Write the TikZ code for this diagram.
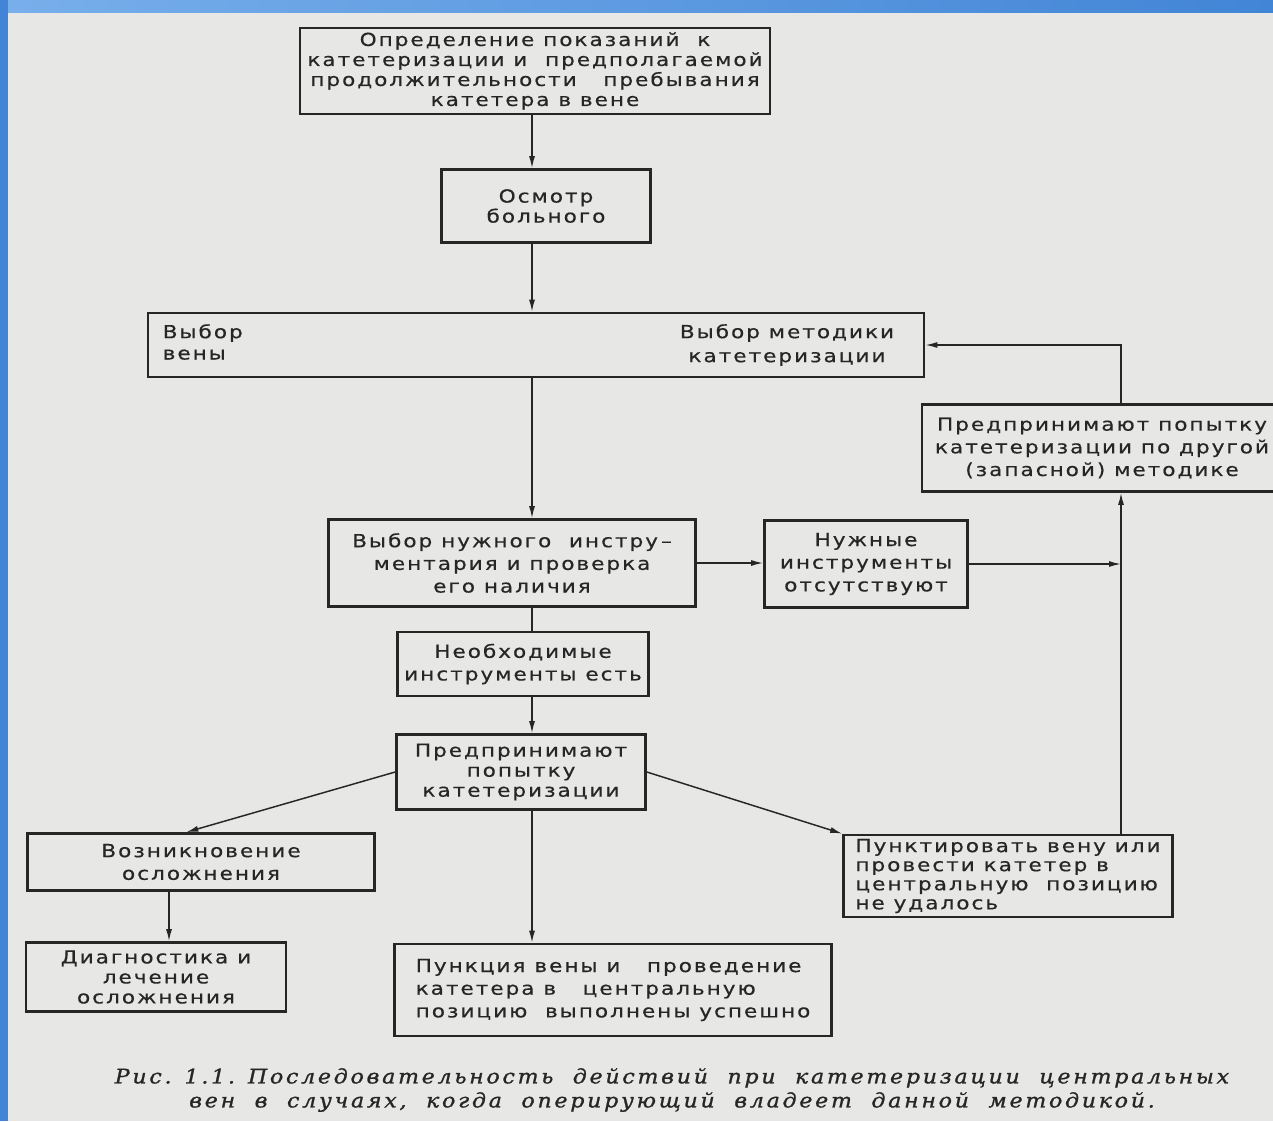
\documentclass[tikz,border=0pt]{standalone}
\usepackage{fontspec}
\usetikzlibrary{arrows.meta,calc,positioning}
\newfontfamily\boxfont{DejaVu Sans}[FakeStretch=1.2,LetterSpace=11,FakeBold=0.5]
\newfontfamily\capfont{DejaVu Serif}[FakeStretch=1.1,LetterSpace=14,FakeBold=1.2]
\definecolor{paper}{RGB}{231,231,229}
\definecolor{ink}{RGB}{38,38,38}
\definecolor{frameblue}{RGB}{66,133,214}
\definecolor{framelight}{RGB}{120,175,235}
\newdimen\pxu \pxu=0.75pt

\begin{document}
\begin{tikzpicture}[
	x=0.75pt, y=-0.75pt,
	box/.style = {draw=ink, line width=2pt, align=center, text=ink,
								inner sep=3pt, font=\boxfont\fontsize{13.5}{15}\selectfont},
 wide/.style = {font=\boxfont\fontsize{13.5}{17}\selectfont},
 link/.style = {draw=ink, line width=1.1pt},
	arr/.style = {link, -{Latex[length=9pt,width=4.5pt]}}]
%
\fill[paper] (0,0) rectangle (1273,1121);
\shade[left color=framelight, right color=frameblue] (0,0) rectangle (1273,12);
\fill[frameblue] (0,0) rectangle (8,1121);
\useasboundingbox (0,0) rectangle (1273,1121);
%
\node [box, minimum width=470\pxu, minimum height=86\pxu]
	(A-1) at (535,71) {Определение показаний\ \ к\\катетеризации и\ \ предполагаемой\\
	продолжительности\ \ \ пребывания\\катетера в вене};
\node [box, minimum width=209\pxu, minimum height=73\pxu]
	(A-2) at (546,206) {Осмотр\\больного};
\node [box, minimum width=776\pxu, minimum height=64\pxu]
	(A-3) at (536,345) {};                     % <-- two texts inside
\node [align=left, anchor=west, text=ink, font=\boxfont\fontsize{13.5}{16}\selectfont]
	(A-3a) at (158,342) {Выбор\\вены};
\node [align=center, text=ink, font=\boxfont\fontsize{13.5}{18}\selectfont]
	(A-3b) at (787,345) {Выбор методики\\катетеризации};
\node [box, wide, minimum width=367\pxu, minimum height=87\pxu]
	(A-4) at (512,563) {Выбор нужного\ \ инстру\,–\\ментария и проверка\\его наличия};
\node [box, wide, minimum width=203\pxu, minimum height=87\pxu]
	(A-5) at (866,564) {Нужные\\инструменты\\отсутствуют};
\node [box, wide, minimum width=251\pxu, minimum height=64\pxu]
	(A-6) at (523,664) {Необходимые\\инструменты есть};
\node [box, minimum width=249\pxu, minimum height=75\pxu]
	(A-7) at (521,772) {Предпринимают\\попытку\\катетеризации};
\node [box, wide, minimum width=347\pxu, minimum height=57\pxu]
	(A-8) at (201,862) {Возникновение\\осложнения};
\node [box, align=left, minimum width=329\pxu, minimum height=82\pxu,
			 font=\boxfont\fontsize{13.5}{14.3}\selectfont]
	(A-9) at (1008,876) {Пунктировать вену или\\провести катетер в\\
	центральную\ \ позицию\\не удалось};
\node [box, minimum width=260\pxu, minimum height=69\pxu]
	(A-10) at (156,977) {Диагностика и\\лечение\\осложнения};
\node [box, align=left, minimum width=437\pxu, minimum height=92\pxu,
			 font=\boxfont\fontsize{13.5}{17}\selectfont]
	(A-11) at (613,990) {Пункция вены и\ \ \ проведение\\катетера в\ \ \ центральную\\
	позицию\ \ выполнены успешно};
\node [box, wide, minimum width=360\pxu, minimum height=87\pxu]
	(A-12) at (1102,448) {Предпринимают попытку\\катетеризации по другой\\
	(запасной) методике};
%
\node [align=center, text=ink, font=\capfont\itshape\fontsize{15}{18}\selectfont]
	(cap) at (672,1090) {Рис. 1.1. Последовательность\ \ действий\ \ при\ \ катетеризации\ \ центральных\\
	вен\ \ в\ \ случаях,\ \ когда\ \ оперирующий\ \ владеет\ \ данной\ \ методикой.};
%%
\coordinate (sp) at (532,0);
\coordinate (rs) at (1121,0);
\coordinate (lf) at (169,0);
\draw [arr] (A-1.south -| sp) -- (A-2.north -| sp);
\draw [arr] (A-2.south -| sp) -- (A-3.north -| sp);
\draw [arr] (A-3.south -| sp) -- (A-4.north -| sp);
\draw [link] (A-4.south -| sp) -- (A-6.north -| sp);
\draw [arr] (A-6.south -| sp) -- (A-7.north -| sp);
\draw [arr] (A-7.south -| sp) -- (A-11.north -| sp);
\draw [arr] (A-4.east) -- (A-5.west |- A-4.east);
\draw [arr] (A-5.east) -- (A-5.east -| rs);
\draw [arr] (A-9.north -| rs) -- (A-12.south -| rs);
\draw [arr] (A-12.north -| rs) |- (A-3.east);
\draw [arr] (A-7.west) -- ([xshift=-11pt] A-8.north);
\draw [arr] (A-7.east) -- (A-9.north west);
\draw [arr] (A-8.south -| lf) -- (A-10.north -| lf);
\end{tikzpicture}
\end{document}
